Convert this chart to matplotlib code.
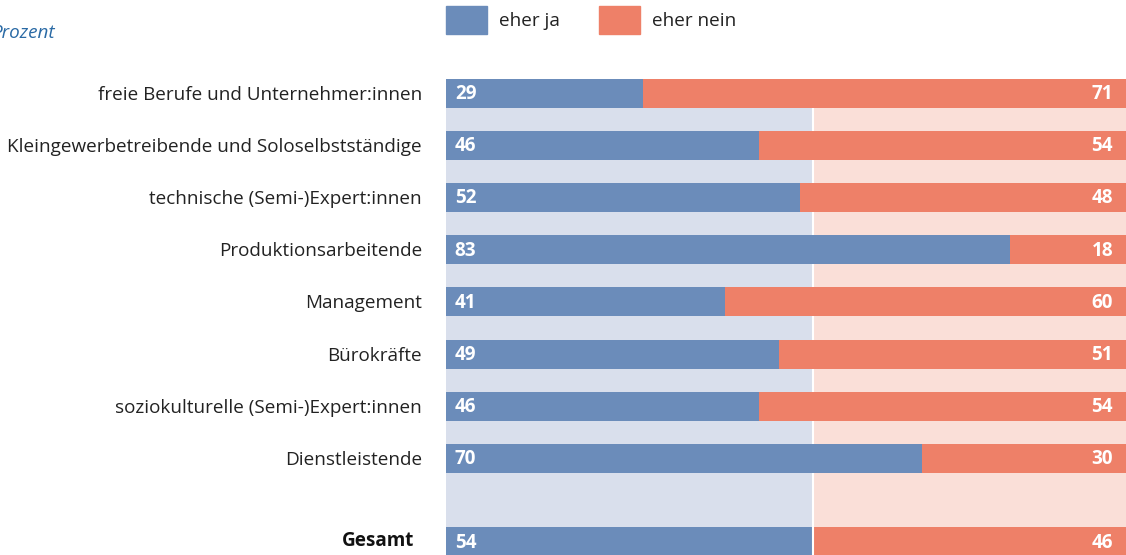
import matplotlib
matplotlib.use("Agg")
import matplotlib.pyplot as plt
from matplotlib.patches import Rectangle

categories = ["freie Berufe und Unternehmer:innen",
              "Kleingewerbetreibende und Soloselbstständige",
              "technische (Semi-)Expert:innen",
              "Produktionsarbeitende",
              "Management",
              "Bürokräfte",
              "soziokulturelle (Semi-)Expert:innen",
              "Dienstleistende"]
eher_ja = [29, 46, 52, 83, 41, 49, 46, 70]
eher_nein = [71, 54, 48, 18, 60, 51, 54, 30]
total_label = "Gesamt"
total_ja = 54
total_nein = 46

BLUE = "#6b8cba"
RED = "#ee8068"
BG_BLUE = "#d9dfec"
BG_RED = "#fadfd8"
FONT = "Open Sans"
FS = 13.6

W, H = 1126, 555
fig = plt.figure(figsize=(W / 100, H / 100), dpi=100)
x0 = 446 / W
ax = fig.add_axes([x0, 0, 1 - x0, 1])
ax.set_xlim(0, 100)
spacing = 52.2
top_c = 93
ax.set_ylim((H - top_c) / spacing, -top_c / spacing)
ax.axis("off")

bh = 29 / spacing
ys = list(range(len(categories)))
y_total = (541.5 - top_c) / spacing

# background
bg_top = -bh / 2
bg_bot = (H - top_c) / spacing
ax.add_patch(Rectangle((0, bg_top), total_ja, bg_bot - bg_top, color=BG_BLUE, lw=0, zorder=0))
ax.add_patch(Rectangle((total_ja, bg_top), 100 - total_ja, bg_bot - bg_top, color=BG_RED, lw=0, zorder=0))
ax.plot([total_ja, total_ja], [bg_top, bg_bot], color="white", lw=1.5, zorder=1)

all_y = ys + [y_total]
all_ja = eher_ja + [total_ja]
all_nein = eher_nein + [total_nein]
ax.barh(all_y, all_ja, height=bh, color=BLUE, lw=0, zorder=2)
ax.barh(all_y, [100 - j for j in all_ja], left=all_ja, height=bh, color=RED, lw=0, zorder=2)
ax.plot([total_ja, total_ja], [y_total - bh / 2, y_total + bh / 2], color="white", lw=1.5, zorder=3)

for y, j, n in zip(all_y, all_ja, all_nein):
    ax.text(1.3, y + 0.02, str(j), color="white", fontweight="bold", fontsize=FS,
            family=FONT, va="center", ha="left", zorder=4)
    ax.text(98.1, y + 0.02, str(n), color="white", fontweight="bold", fontsize=FS,
            family=FONT, va="center", ha="right", zorder=4)

lbl_x = (422 - 446) / 680 * 100
for y, c in zip(ys, categories):
    ax.text(lbl_x, y + 0.03, c, color="#222222", fontsize=FS, family=FONT,
            va="center", ha="right", clip_on=False)
ax.text((414 - 446) / 680 * 100, y_total, total_label, color="#111111", fontsize=FS,
        family=FONT, fontweight="bold", va="center", ha="right", clip_on=False)

# legend
def fx(px):
    return px / W
def fy(py):
    return 1 - py / H

fig.patches.append(Rectangle((fx(446), fy(34)), 41 / W, 28 / H, color=BLUE,
                             transform=fig.transFigure, figure=fig))
fig.text(fx(499), fy(21), "eher ja", fontsize=FS, family=FONT, color="#222222", va="center")
fig.patches.append(Rectangle((fx(599), fy(34)), 41 / W, 28 / H, color=RED,
                             transform=fig.transFigure, figure=fig))
fig.text(fx(652), fy(21), "eher nein", fontsize=FS, family=FONT, color="#222222", va="center")

fig.text(fx(55), fy(33), "Prozent", fontsize=FS, family=FONT, style="italic",
         color="#2a6aa5", va="center", ha="right")

fig.savefig("out.png", dpi=100)
